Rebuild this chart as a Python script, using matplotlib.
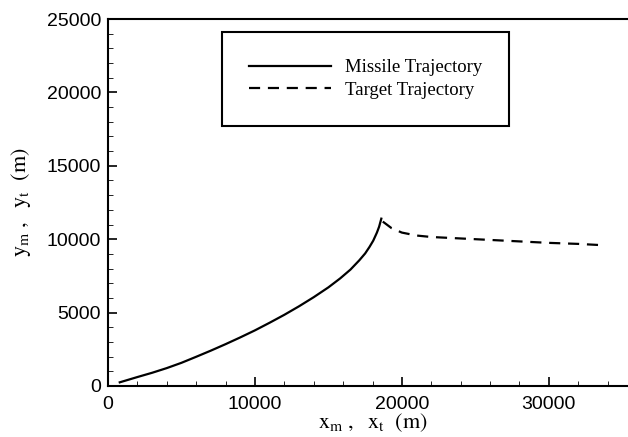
import matplotlib
matplotlib.use("Agg")
import matplotlib.pyplot as plt
from matplotlib.ticker import MultipleLocator

# missile trajectory (m)
missile_x = [800, 2000, 3000, 4000, 5000, 6000, 7000, 8000, 9000, 10000,
             11000, 12000, 13000, 14000, 15000, 15800, 16500, 17100, 17500,
             17800, 18050, 18300, 18450, 18600]
missile_y = [250, 610, 900, 1220, 1580, 1990, 2410, 2850, 3310, 3790,
             4310, 4850, 5430, 6050, 6720, 7330, 7930, 8560, 9030,
             9480, 9900, 10450, 10850, 11400]

# target trajectory (m)
target_x = [18700, 19300, 20000, 21000, 22000, 24000, 26000, 28000,
            30000, 32000, 33500]
target_y = [11200, 10750, 10450, 10250, 10150, 10050, 9950, 9850,
            9750, 9680, 9600]

x_ticks = [0, 10000, 20000, 30000]
y_ticks = [0, 5000, 10000, 15000, 20000, 25000]

plt.rcParams["mathtext.fontset"] = "stix"

fig = plt.figure(figsize=(6.28, 4.37), dpi=100)
ax = fig.add_axes([108 / 628, 51 / 437, 529 / 628, 367 / 437])

ax.plot(missile_x, missile_y, color="black", linewidth=1.6,
        label="Missile Trajectory")
ax.plot(target_x, target_y, color="black", linewidth=1.6,
        linestyle=(0, (5, 3.5)), label="Target Trajectory")

ax.set_xlim(0, 36000)
ax.set_ylim(0, 25000)
ax.set_xticks(x_ticks)
ax.set_yticks(y_ticks)
ax.xaxis.set_minor_locator(MultipleLocator(2000))
ax.yaxis.set_minor_locator(MultipleLocator(1000))
ax.tick_params(which="major", direction="in", length=6.5, width=1.2,
               labelsize=14)
ax.tick_params(axis="x", which="major", pad=7)
ax.tick_params(axis="y", which="major", pad=5)
ax.tick_params(which="minor", direction="in", length=3.5, width=0.6)
for lbl in ax.get_xticklabels() + ax.get_yticklabels():
    lbl.set_fontfamily("Liberation Sans")
for s in ax.spines.values():
    s.set_linewidth(1.5)

ax.set_xlabel(r"$\mathrm{x_m\ ,\ \ x_t\ \ (m)}$", fontsize=16, labelpad=-1)
ax.set_ylabel(r"$\mathrm{y_m\ ,\ \ y_t\ \ (m)}$", fontsize=16, labelpad=10)

leg = ax.legend(loc="upper left", bbox_to_anchor=(0.215, 0.965),
                prop={"family": "Liberation Serif", "size": 13.5},
                handlelength=4.4, handletextpad=0.7, borderpad=1.45,
                labelspacing=0.3, fancybox=False, framealpha=1,
                edgecolor="black", borderaxespad=0)
leg.get_frame().set_linewidth(1.5)

fig.savefig("out.png", dpi=100)
